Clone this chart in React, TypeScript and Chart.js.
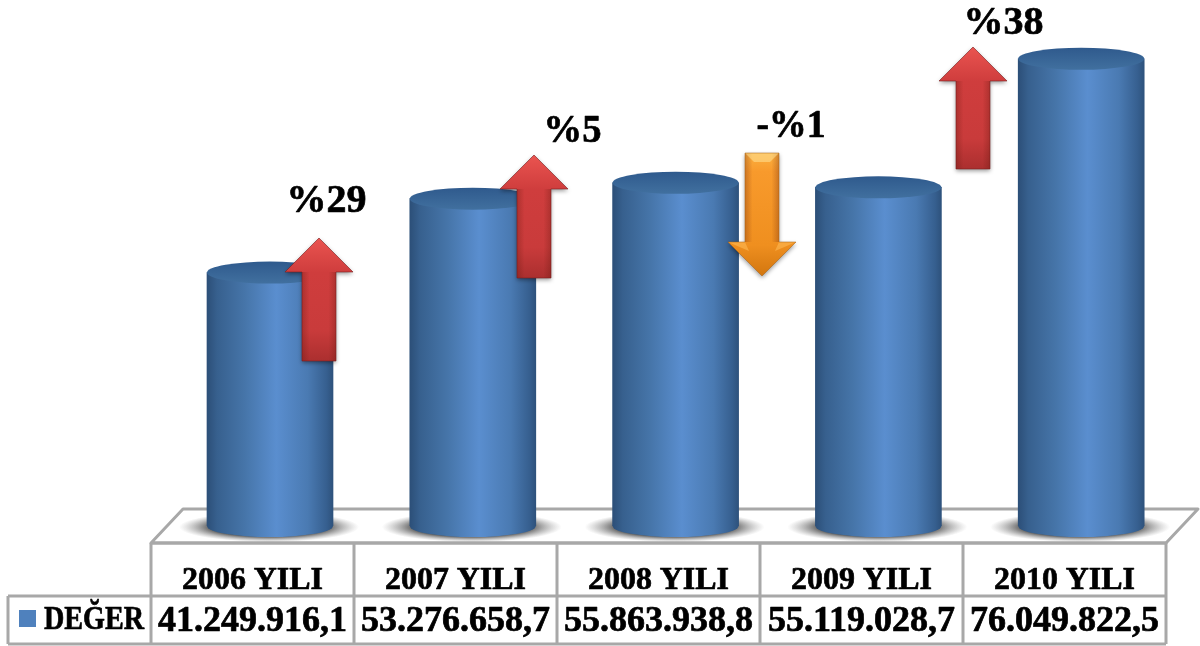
import React, { useEffect, useRef } from "react";
import { Chart, registerables } from "chart.js";

Chart.register(...registerables);

const categories = ["2006 YILI", "2007 YILI", "2008 YILI", "2009 YILI", "2010 YILI"];
const values = [41249916.1, 53276658.7, 55863938.8, 55119028.7, 76049822.5];
const valueLabels = ["41.249.916,1", "53.276.658,7", "55.863.938,8", "55.119.028,7", "76.049.822,5"];
const seriesName = "DEĞER";
const changeLabels = ["%29", "%5", "-%1", "%38"];

// Decoration layout (pixels), kept apart from the data above
const arrows = [
  { x: 319, tip: 238, tail: 361, up: true },
  { x: 534, tip: 155, tail: 278, up: true },
  { x: 762, tip: 276, tail: 153, up: false },
  { x: 973, tip: 47, tail: 169, up: true },
];
const changeLabelPos = [
  { x: 326.5, y: 212, w: 80 },
  { x: 572.5, y: 142, w: 58 },
  { x: 791, y: 137, w: 69 },
  { x: 1003.5, y: 34, w: 80 },
];
const BAR_W = 126;
const RY = 11;
const SERIF = '"Liberation Serif", serif';
const GRID = "#a8a8a8";

function cylGradient(ctx: CanvasRenderingContext2D, cx: number) {
  const l = cx - BAR_W / 2;
  const g = ctx.createLinearGradient(l, 0, l + BAR_W, 0);
  g.addColorStop(0, "#2c4f78");
  g.addColorStop(0.08, "#37608e");
  g.addColorStop(0.3, "#4675a9");
  g.addColorStop(0.55, "#5a8ecf");
  g.addColorStop(0.8, "#4a7ab2");
  g.addColorStop(0.95, "#365f8f");
  g.addColorStop(1, "#2e527c");
  return g;
}

function boldText(ctx: CanvasRenderingContext2D, t: string, x: number, y: number, w: number) {
  ctx.lineWidth = 0.7;
  ctx.strokeStyle = "#000";
  ctx.lineJoin = "round";
  ctx.fillText(t, x, y, w);
  ctx.strokeText(t, x, y, w);
}

function drawArrow(ctx: CanvasRenderingContext2D, a: (typeof arrows)[number]) {
  const dir = a.up ? 1 : -1;
  const headBase = a.tip + dir * 34;
  const outline = () => {
    ctx.beginPath();
    ctx.moveTo(a.x, a.tip);
    ctx.lineTo(a.x + 34, headBase);
    ctx.lineTo(a.x + 17, headBase);
    ctx.lineTo(a.x + 17, a.tail);
    ctx.lineTo(a.x - 17, a.tail);
    ctx.lineTo(a.x - 17, headBase);
    ctx.lineTo(a.x - 34, headBase);
    ctx.closePath();
  };
  ctx.save();
  outline();
  const g = ctx.createLinearGradient(0, a.tip, 0, a.tail);
  if (a.up) {
    g.addColorStop(0, "#ea5450");
    g.addColorStop(0.28, "#cf3d3d");
    g.addColorStop(0.75, "#c93b3b");
    g.addColorStop(1, "#ab2f2f");
  } else {
    g.addColorStop(0, "#d2760f");
    g.addColorStop(0.25, "#ef8f1f");
    g.addColorStop(0.85, "#f89a2c");
    g.addColorStop(1, "#fbb040");
  }
  ctx.shadowColor = "rgba(0,0,0,0.4)";
  ctx.shadowBlur = 4;
  ctx.shadowOffsetY = 2;
  ctx.fillStyle = g;
  ctx.fill();
  ctx.shadowColor = "transparent";
  ctx.shadowBlur = 0;
  ctx.shadowOffsetY = 0;
  // rounded shading across the shaft
  ctx.save();
  outline();
  ctx.clip();
  const side = ctx.createLinearGradient(a.x - 17, 0, a.x + 17, 0);
  side.addColorStop(0, "rgba(90,20,10,0.28)");
  side.addColorStop(0.22, "rgba(90,20,10,0)");
  side.addColorStop(0.78, "rgba(90,20,10,0)");
  side.addColorStop(1, "rgba(90,20,10,0.28)");
  ctx.fillStyle = side;
  ctx.fillRect(a.x - 17, Math.min(headBase, a.tail), 34, Math.abs(a.tail - headBase));
  if (!a.up) {
    // bevel at the tail, and bright facets on the head of the falling arrow
    ctx.fillStyle = "rgba(255,225,150,0.55)";
    ctx.beginPath();
    ctx.moveTo(a.x - 17, a.tail);
    ctx.lineTo(a.x + 17, a.tail);
    ctx.lineTo(a.x + 8, a.tail + 9);
    ctx.lineTo(a.x - 8, a.tail + 9);
    ctx.closePath();
    ctx.fill();
    ctx.fillStyle = "rgba(255,190,90,0.55)";
    [-1, 1].forEach((s) => {
      ctx.beginPath();
      ctx.moveTo(a.x + s * 34, headBase);
      ctx.lineTo(a.x + s * 17, headBase);
      ctx.lineTo(a.x + s * 13, headBase + 9);
      ctx.closePath();
      ctx.fill();
    });
  }
  ctx.restore();
  outline();
  ctx.strokeStyle = a.up ? "rgba(120,30,30,0.6)" : "rgba(170,95,15,0.5)";
  ctx.lineWidth = 1;
  ctx.stroke();
  ctx.restore();
}

const decor = {
  id: "decor",
  beforeDatasetsDraw(chart: any) {
    const ctx: CanvasRenderingContext2D = chart.ctx;
    const base = chart.scales.y.getPixelForValue(0);
    ctx.save();
    // floor
    ctx.beginPath();
    ctx.moveTo(151, 543);
    ctx.lineTo(183, 509);
    ctx.lineTo(1198, 509);
    ctx.lineTo(1166, 543);
    ctx.closePath();
    ctx.strokeStyle = GRID;
    ctx.lineWidth = 3;
    ctx.lineJoin = "round";
    ctx.stroke();
    // contact shadows
    chart.getDatasetMeta(0).data.forEach((bar: any) => {
      ctx.save();
      ctx.translate(bar.x - 1, base + 1);
      ctx.scale(1, 15 / 90);
      const g = ctx.createRadialGradient(0, 0, 58, 0, 0, 90);
      g.addColorStop(0, "rgba(80,80,80,0.95)");
      g.addColorStop(1, "rgba(150,150,150,0)");
      ctx.fillStyle = g;
      ctx.beginPath();
      ctx.arc(0, 0, 90, 0, Math.PI * 2);
      ctx.fill();
      ctx.restore();
    });
    // lower caps of the cylinders
    chart.getDatasetMeta(0).data.forEach((bar: any) => {
      ctx.fillStyle = cylGradient(ctx, bar.x);
      ctx.beginPath();
      ctx.ellipse(bar.x, base, BAR_W / 2, RY, 0, 0, Math.PI * 2);
      ctx.fill();
    });
    ctx.restore();
  },
  afterDatasetsDraw(chart: any) {
    const ctx: CanvasRenderingContext2D = chart.ctx;
    ctx.save();
    // upper caps
    chart.getDatasetMeta(0).data.forEach((bar: any) => {
      const g = ctx.createLinearGradient(0, bar.y - RY, 0, bar.y + RY);
      g.addColorStop(0, "#2f5a8d");
      g.addColorStop(1, "#41709f");
      ctx.fillStyle = g;
      ctx.beginPath();
      ctx.ellipse(bar.x, bar.y, BAR_W / 2, RY, 0, 0, Math.PI * 2);
      ctx.fill();
    });
    arrows.forEach((a) => drawArrow(ctx, a));

    // data table
    const colLeft = 151;
    const colW = 203;
    const rows = [543, 596, 644];
    ctx.strokeStyle = GRID;
    ctx.lineWidth = 3;
    ctx.beginPath();
    ctx.moveTo(colLeft, rows[0]);
    ctx.lineTo(colLeft + colW * 5, rows[0]);
    ctx.moveTo(8, rows[1]);
    ctx.lineTo(colLeft + colW * 5, rows[1]);
    ctx.moveTo(8, rows[2]);
    ctx.lineTo(colLeft + colW * 5, rows[2]);
    ctx.moveTo(8, rows[1]);
    ctx.lineTo(8, rows[2]);
    for (let i = 0; i <= 5; i++) {
      ctx.moveTo(colLeft + colW * i, rows[0]);
      ctx.lineTo(colLeft + colW * i, rows[2]);
    }
    ctx.stroke();

    ctx.fillStyle = "#000";
    ctx.textBaseline = "alphabetic";
    ctx.textAlign = "center";
    categories.forEach((c, i) => {
      ctx.font = `bold 32px ${SERIF}`;
      boldText(ctx, c, colLeft + colW * (i + 0.5), 589, 141);
      ctx.font = `bold 36px ${SERIF}`;
      boldText(ctx, valueLabels[i], colLeft + colW * (i + 0.5), 631, 190);
    });
    ctx.textAlign = "left";
    ctx.font = `bold 33px ${SERIF}`;
    boldText(ctx, seriesName, 44, 629, 100);
    ctx.fillStyle = "#4f81bd";
    ctx.fillRect(19, 610, 17, 17);

    ctx.fillStyle = "#000";
    ctx.textAlign = "center";
    ctx.font = `bold 40px ${SERIF}`;
    changeLabels.forEach((t, i) => {
      boldText(ctx, t, changeLabelPos[i].x, changeLabelPos[i].y, changeLabelPos[i].w);
    });
    ctx.restore();
  },
};

export default function App() {
  const ref = useRef<HTMLCanvasElement>(null);
  useEffect(() => {
    const chart = new Chart(ref.current!, {
      type: "bar",
      data: {
        labels: categories,
        datasets: [
          {
            label: seriesName,
            data: values,
            barThickness: BAR_W,
            borderWidth: 0,
            backgroundColor: (c: any) => {
              const x = c.chart.scales?.x;
              if (!x || c.dataIndex === undefined) return "#4f81bd";
              const px = x.getPixelForValue(c.dataIndex);
              if (!Number.isFinite(px)) return "#4f81bd";
              return cylGradient(c.chart.ctx, px);
            },
          },
        ],
      },
      options: {
        responsive: false,
        animation: false,
        layout: { padding: { left: 168.6, right: 17.4, top: 34.5, bottom: 120 } },
        plugins: { legend: { display: false }, tooltip: { enabled: false }, title: { display: false } },
        scales: {
          x: { display: false, grid: { display: false } },
          y: { display: false, min: 0, max: 80000000, grid: { display: false } },
        },
      },
      plugins: [decor],
    } as any);
    return () => chart.destroy();
  }, []);
  return (
    <canvas
      ref={ref}
      width={1200}
      height={646}
      style={{ position: "fixed", left: 0, top: 0, display: "block", background: "#fff" }}
    />
  );
}
